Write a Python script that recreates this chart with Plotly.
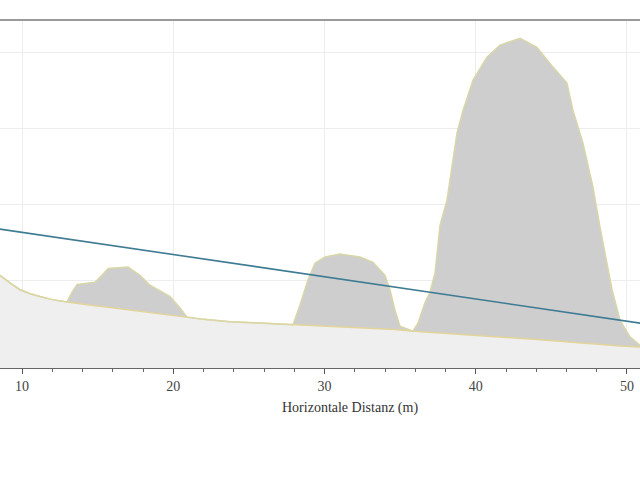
import plotly.graph_objects as go

# profile positions (m) and heights
distanz = [8.55, 9.2, 9.87, 10.5, 11.19, 12.0, 12.98, 13.31, 13.64, 14.83, 15.29, 15.69,
           17.01, 17.8, 18.46, 19.79, 20.45, 20.91, 22.0, 23.75, 26.0, 27.92, 28.38, 28.91,
           29.37, 30.03, 31.02, 32.35, 33.21, 34.0, 34.33, 34.66, 34.99, 35.45, 35.85, 36.18,
           36.64, 36.98, 37.31, 37.64, 38.1, 38.76, 39.16, 39.82, 40.74, 41.6, 42.93, 44.05,
           45.11, 46.03, 46.43, 47.09, 47.75, 48.21, 48.68, 49.01, 49.54, 50.2, 50.86]

gelaende = [6.1, 5.6, 5.15, 4.9, 4.7, 4.5, 4.35, 4.3, 4.25, 4.1, 4.05, 4.0,
            3.85, 3.75, 3.65, 3.5, 3.4, 3.35, 3.2, 3.05, 2.95, 2.85, 2.83, 2.8,
            2.78, 2.75, 2.7, 2.65, 2.6, 2.57, 2.55, 2.53, 2.5, 2.45, 2.42, 2.4,
            2.37, 2.35, 2.32, 2.3, 2.27, 2.23, 2.2, 2.17, 2.12, 2.05, 1.95, 1.88,
            1.8, 1.72, 1.68, 1.62, 1.57, 1.53, 1.5, 1.48, 1.45, 1.42, 1.38]

vegetation = [6.1, 5.6, 5.15, 4.9, 4.7, 4.5, 4.35, 5.0, 5.5, 5.65, 6.1, 6.55,
              6.65, 6.1, 5.45, 4.7, 3.95, 3.35, 3.2, 3.05, 2.95, 2.85, 4.15, 5.8,
              6.9, 7.3, 7.5, 7.3, 6.95, 6.1, 5.15, 3.8, 2.75, 2.55, 2.42, 2.95,
              4.3, 5.0, 6.25, 9.4, 11.05, 15.45, 16.95, 18.95, 20.45, 21.25, 21.7, 21.1,
              19.8, 18.75, 16.95, 14.8, 11.9, 9.3, 6.9, 5.15, 3.15, 2.05, 1.5]

# line of sight end points
sicht_x = [0, 52]
sicht_y = [10.39, 2.79]

fig = go.Figure()

fig.add_trace(go.Scatter(x=distanz, y=gelaende, mode="lines", fill="tozeroy",
                         fillcolor="#efefef", line=dict(color="#e3d49a", width=1.5)))
fig.add_trace(go.Scatter(x=distanz, y=vegetation, mode="lines", fill="tonexty",
                         fillcolor="#cecece", line=dict(color="#d9d7a8", width=1.5)))
fig.add_trace(go.Scatter(x=sicht_x, y=sicht_y, mode="lines",
                         line=dict(color="#3f7c94", width=1.6)))

fig.add_shape(type="line", xref="paper", yref="paper", x0=0, x1=1, y0=1, y1=1,
              line=dict(color="#9a9a9a", width=2))

fig.add_annotation(text="Horizontale Distanz (m)", xref="x", yref="paper",
                   x=31.7, y=0, yanchor="middle", yshift=-40, showarrow=False,
                   font=dict(family="Liberation Serif", size=14, color="#333333"))

fig.update_layout(
    width=640, height=480,
    margin=dict(l=0, r=0, t=20, b=112),
    paper_bgcolor="white", plot_bgcolor="white",
    showlegend=False,
    xaxis=dict(range=[8.545, 50.86], tickvals=[10, 20, 30, 40, 50],
               ticks="outside", ticklen=5, tickcolor="#555555",
               showline=True, linecolor="#666666", linewidth=1,
               showgrid=True, gridcolor="#ededed", zeroline=False, automargin=False,
               tickfont=dict(family="Liberation Serif", size=14, color="#444444"),
               minor=dict(dtick=2, tick0=0, ticks="outside", ticklen=3,
                          tickcolor="#666666", showgrid=False)),
    yaxis=dict(range=[0, 22.9], tick0=0.79, dtick=5, showticklabels=False,
               showgrid=True, gridcolor="#ededed", zeroline=False, automargin=False),
)

# drop the browser's default page margin so the figure sits at the corner
fig.write_html("out.html", config={"displayModeBar": False},
               post_script="document.body.style.margin='0';")
